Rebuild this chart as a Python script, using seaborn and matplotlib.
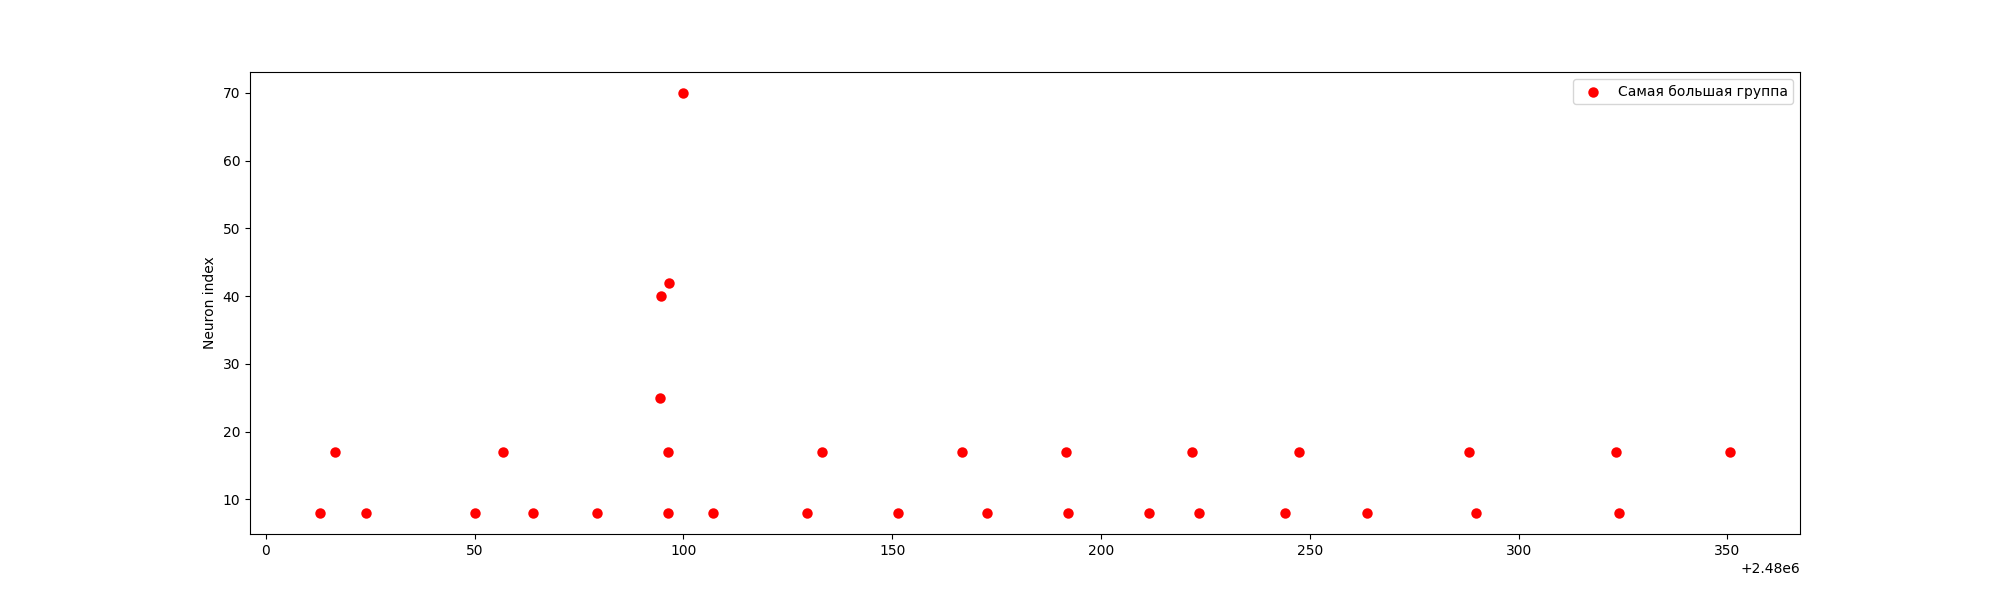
import matplotlib
matplotlib.use("Agg")
import matplotlib.pyplot as plt
import seaborn as sns
import numpy as np
import pandas as pd

# spike times (offset from 2.48e6) and neuron indices of the largest group
time_offset = 2480000
spike_times = [13.1, 16.7, 24.1, 50.0, 56.7, 64.1, 79.2, 94.5, 94.7, 96.2, 96.2,
               96.6, 100.0, 107.1, 129.7, 133.2, 151.5, 166.6, 172.6, 191.7,
               192.0, 211.6, 221.7, 223.5, 244.1, 247.3, 263.7, 288.1, 289.9,
               323.3, 324.1, 350.5]
neuron_ids = [8, 17, 8, 8, 17, 8, 8, 25, 40, 17, 8,
              42, 70, 8, 8, 17, 8, 17, 8, 17,
              8, 8, 17, 8, 8, 17, 8, 17, 8,
              17, 8, 17]

df = pd.DataFrame({
    "time": np.array(spike_times) + time_offset,
    "neuron": neuron_ids,
})

fig, ax = plt.subplots(figsize=(20, 6), dpi=100)
sns.scatterplot(data=df, x="time", y="neuron", color="red", s=36,
                edgecolor="face", linewidth=1.5, label="Самая большая группа", ax=ax)
ax.set_xlabel("")
ax.set_ylabel("Neuron index")
ax.legend(loc="upper right")

plt.savefig("out.png")
